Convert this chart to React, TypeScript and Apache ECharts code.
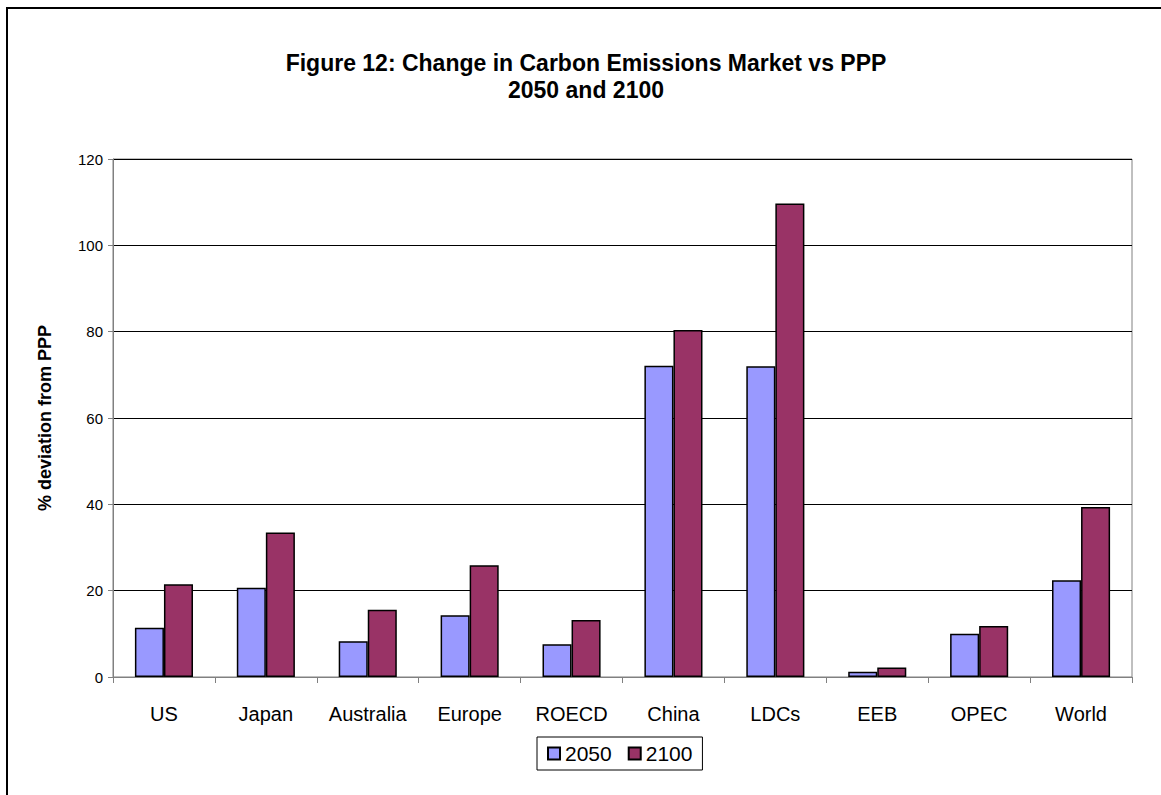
import React, { useEffect, useRef } from "react";
import * as echarts from "echarts";

const categories = ["US", "Japan", "Australia", "Europe", "ROECD", "China", "LDCs", "EEB", "OPEC", "World"];
const values2050 = [11.4, 20.7, 8.3, 14.3, 7.6, 72.1, 72.0, 1.2, 10.0, 22.4];
const values2100 = [21.5, 33.5, 15.6, 25.9, 13.2, 80.4, 109.7, 2.2, 11.8, 39.4];
const seriesNames = ["2050", "2100"];
const titleLines = ["Figure 12: Change in Carbon Emissions Market vs PPP", "2050 and 2100"];
const yAxisName = "% deviation from PPP";

const FONT = "'Liberation Sans', Arial, sans-serif";

export default function App() {
  const ref = useRef<HTMLDivElement>(null);
  useEffect(() => {
    document.body.style.margin = "0";
    document.body.style.overflow = "hidden";
    const chart = echarts.init(ref.current!, null, { renderer: "svg" });
    chart.setOption({
      animation: false,
      backgroundColor: "#ffffff",
      textStyle: { fontFamily: FONT, color: "#000" },
      title: {
        text: titleLines.join("\n"),
        left: 581,
        top: 44,
        textAlign: "center",
        textStyle: { fontFamily: FONT, fontWeight: "bold", fontSize: 23, lineHeight: 27, color: "#000" },
      },
      graphic: [
        {
          type: "rect",
          shape: { x: 7, y: 8, width: 1300, height: 1000 },
          style: { fill: "none", stroke: "#000", lineWidth: 2 },
          silent: true,
        },
      ],
      legend: {
        data: seriesNames,
        left: 537,
        top: 737,
        orient: "horizontal",
        icon: "rect",
        itemWidth: 12,
        itemHeight: 12,
        itemGap: 16,
        padding: [6, 10],
        borderColor: "#000",
        borderWidth: 1,
        textStyle: { fontFamily: FONT, fontSize: 21, color: "#000" },
      },
      grid: { left: 113, top: 159, right: 29, bottom: 118, show: true, borderColor: "#808080", borderWidth: 1 },
      xAxis: {
        type: "category",
        data: categories,
        axisLine: { lineStyle: { color: "#808080", width: 1 } },
        axisTick: { show: true, length: 6, lineStyle: { color: "#808080" } },
        axisLabel: { fontFamily: FONT, fontSize: 20, color: "#000", margin: 27 },
      },
      yAxis: {
        type: "value",
        min: 0,
        max: 120,
        interval: 20,
        name: yAxisName,
        nameLocation: "middle",
        nameGap: 59,
        nameTextStyle: { fontFamily: FONT, fontWeight: "bold", fontSize: 18, color: "#000" },
        axisLine: { show: true, lineStyle: { color: "#808080", width: 1 } },
        axisTick: { show: true, length: 5, lineStyle: { color: "#808080" } },
        axisLabel: { fontFamily: FONT, fontSize: 15, color: "#000", margin: 10 },
        splitLine: { show: true, lineStyle: { color: "#000", width: 1 } },
      },
      series: [
        {
          name: seriesNames[0],
          type: "bar",
          data: values2050,
          barGap: "0%",
          barCategoryGap: "43%",
          itemStyle: { color: "#9999FF", borderColor: "#000", borderWidth: 1.5 },
        },
        {
          name: seriesNames[1],
          type: "bar",
          data: values2100,
          barGap: "0%",
          barCategoryGap: "43%",
          itemStyle: { color: "#993366", borderColor: "#000", borderWidth: 1.5 },
        },
      ],
    });
    return () => chart.dispose();
  }, []);
  return <div ref={ref} style={{ width: 1161, height: 795 }} />;
}
